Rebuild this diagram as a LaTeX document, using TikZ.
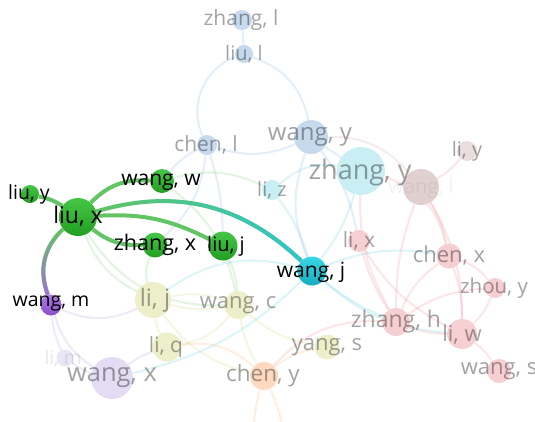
\documentclass[tikz,border=0pt]{standalone}
\usepackage{fontspec}
\setmainfont{Open Sans}
\usetikzlibrary{fadings}

% cluster colours
\definecolor{cBlue}{HTML}{6FA8DC}
\definecolor{cCyan}{HTML}{4FC8D8}
\definecolor{cRed}{HTML}{EC7F86}
\definecolor{cYel}{HTML}{C8D070}
\definecolor{cOra}{HTML}{F7A866}
\definecolor{cPur}{HTML}{A98AD8}
\definecolor{cGrn}{HTML}{6CC46C}
\definecolor{cBrn}{HTML}{C8A0A0}
% pale node fills
\definecolor{pBlue}{HTML}{C7DAED}
\definecolor{pCyan}{HTML}{C9EFF4}
\definecolor{pBrn}{HTML}{E0D0D0}
\definecolor{pBrn2}{HTML}{E9DDDD}
\definecolor{pRed}{HTML}{F6CFD3}
\definecolor{pYel}{HTML}{ECEFCA}
\definecolor{pOra}{HTML}{FDDABF}
\definecolor{pPur}{HTML}{E4DCF2}
\definecolor{pPur2}{HTML}{EAE5F4}
% highlighted colours
\definecolor{hGrnT}{HTML}{46C646}
\definecolor{hGrnB}{HTML}{229F22}
\definecolor{hCyaT}{HTML}{3AD6E6}
\definecolor{hCyaB}{HTML}{14ADC0}
\definecolor{hPurT}{HTML}{AE7AE4}
\definecolor{hPurB}{HTML}{8A50CC}
\definecolor{eGrn}{HTML}{62C462}
\definecolor{eTeal}{HTML}{2EC6CC}
\definecolor{ePur}{HTML}{A070DA}

\pgfdeclarelayer{fadedlinks}
\pgfdeclarelayer{fadednodes}
\pgfdeclarelayer{hotlinks}
\pgfsetlayers{fadedlinks,fadednodes,hotlinks,main}

\tikzset{
  dot/.style={circle, inner sep=0pt, draw=none},
  hotG/.style={dot, top color=hGrnT, bottom color=hGrnB},
  hotC/.style={dot, top color=hCyaT, bottom color=hCyaB},
  hotP/.style={dot, top color=hPurT, bottom color=hPurB},
  blk/.style={inner sep=0pt, text=black},
  gry/.style={inner sep=0pt, text=black, text opacity=0.36},
  fe/.style={line width=2.1pt, opacity=0.19},
  eb/.style={fe, cBlue},
  ec/.style={fe, cCyan},
  er/.style={fe, cRed},
  ey/.style={fe, cYel},
  eo/.style={fe, cOra},
  ep/.style={fe, cPur},
  eg/.style={fe, cGrn},
  ebr/.style={fe, cBrn},
  he/.style={line width=4pt, eGrn},
}

\begin{document}
\begin{tikzpicture}[x=1pt, y=-1pt]
\useasboundingbox (0,0) rectangle (535,421);
\clip (0,0) rectangle (535,421);

% ---- faded nodes and their labels ----
\begin{pgfonlayer}{fadednodes}
\node[dot, minimum size=20, fill=pBlue] (zhangl) at (242,20) {};
\node[dot, minimum size=18, fill=pBlue] (liul) at (244,54) {};
\node[dot, minimum size=20, fill=pBlue] (chenl) at (207,145) {};
\node[dot, minimum size=34, fill=pBlue] (wangy) at (311,137) {};
\node[dot, minimum size=48, fill=pCyan] (zhangy) at (361,171) {};
\node[dot, minimum size=36, fill=pBrn] (wangl) at (421,187) {};
\node[dot, minimum size=20, fill=pBrn2] (liy) at (467,151) {};
\node[dot, minimum size=20, fill=pCyan] (liz) at (272,190) {};
\node[dot, minimum size=22, fill=pRed] (lix) at (359,241) {};
\node[dot, minimum size=25, fill=pRed] (chenx) at (449,256) {};
\node[dot, minimum size=20, fill=pRed] (zhouy) at (495,288) {};
\node[dot, minimum size=28, fill=pRed] (zhangh) at (396,322) {};
\node[dot, minimum size=30, fill=pRed] (liw) at (462,334) {};
\node[dot, minimum size=24, fill=pRed] (wangs) at (499,371) {};
\node[dot, minimum size=36, fill=pYel] (lij) at (153,300) {};
\node[dot, minimum size=28, fill=pYel] (wangc) at (238,305) {};
\node[dot, minimum size=29, fill=pYel] (liq) at (167,347) {};
\node[dot, minimum size=25, fill=pYel] (yangs) at (327,347) {};
\node[dot, minimum size=28, fill=pOra] (cheny) at (264,376) {};
\node[dot, minimum size=17, fill=pPur2] (lim) at (65,358) {};
\node[dot, minimum size=42, fill=pPur] (wangx) at (112,378) {};

\node[gry, font=\fontsize{21}{21}\selectfont] (t-zhangl) at (241,20) {zhang, l};
\node[gry, font=\fontsize{20}{20}\selectfont] (t-liul) at (244,54) {liu, l};
\node[gry, font=\fontsize{21}{21}\selectfont] (t-chenl) at (206,145) {chen, l};
\node[gry, font=\fontsize{24}{24}\selectfont] (t-wangy) at (310,137) {wang, y};
\node[gry, font=\fontsize{20}{20}\selectfont, text opacity=0.05] (t-wangl) at (421,188) {wang, l};
\node[gry, font=\fontsize{27}{27}\selectfont] (t-zhangy) at (360,172) {zhang, y};
\node[gry, font=\fontsize{20}{20}\selectfont] (t-liy) at (467,151) {li, y};
\node[gry, font=\fontsize{20}{20}\selectfont] (t-liz) at (272,190) {li, z};
\node[gry, font=\fontsize{21}{21}\selectfont] (t-lix) at (359,241) {li, x};
\node[gry, font=\fontsize{22}{22}\selectfont] (t-chenx) at (449,256) {chen, x};
\node[gry, font=\fontsize{20.5}{20.5}\selectfont] (t-zhouy) at (494,288) {zhou, y};
\node[gry, font=\fontsize{23}{23}\selectfont] (t-zhangh) at (396,322) {zhang, h};
\node[gry, font=\fontsize{22}{22}\selectfont] (t-liw) at (462,335) {li, w};
\node[gry, font=\fontsize{22}{22}\selectfont] (t-wangs) at (499,371) {wang, s};
\node[gry, font=\fontsize{24}{24}\selectfont] (t-lij) at (155,300) {li, j};
\node[gry, font=\fontsize{22}{22}\selectfont] (t-wangc) at (238,305) {wang, c};
\node[gry, font=\fontsize{21}{21}\selectfont] (t-liq) at (166,347) {li, q};
\node[gry, font=\fontsize{22}{22}\selectfont] (t-yangs) at (327,347) {yang, s};
\node[gry, font=\fontsize{22.5}{22.5}\selectfont] (t-cheny) at (263,376) {chen, y};
\node[gry, font=\fontsize{19}{19}\selectfont, text opacity=0.09] (t-lim) at (63,358) {li, m};
\node[gry, font=\fontsize{25.5}{25.5}\selectfont] (t-wangx) at (112,378) {wang, x};
\end{pgfonlayer}

% ---- highlighted nodes ----
\node[hotG, minimum size=38] (liux) at (78,217) {};
\node[hotG, minimum size=18] (liuy) at (30,194) {};
\node[hotG, minimum size=24] (wangw) at (162,181) {};
\node[hotG, minimum size=25] (zhangx) at (155,245) {};
\node[hotG, minimum size=29] (liuj) at (223,246) {};
\node[hotC, minimum size=29] (wangj) at (312,271) {};
\node[hotP, minimum size=21] (wangm) at (51,305) {};

% links that run out of the frame below chen, y
\coordinate (off1) at (255,450);
\coordinate (off2) at (285,450);

% ---- faded links ----
\begin{pgfonlayer}{fadedlinks}
\draw[eb] (zhangl) -- (liul);
\draw[eb] (liul) to[bend right=48] (chenl);
\draw[eb] (liul) to[bend left=30] (wangy);
\draw[eb] (chenl) to[bend right=20] (wangy);
\draw[eb] (wangy) -- (zhangy);
\draw[eb] (wangy) to[bend right=20] (wangj);
\draw[eb] (wangy) to[bend left=12] (lix);
\draw[eb] (chenl) to[bend left=8] (liuj);
\draw[eb] (chenl) to[bend right=12] (wangw);
\draw[eb] (chenl) to[bend left=20] (zhangx);
\draw[ebr] (wangy) to[bend left=25] (wangl);

\draw[ec] (zhangy) to[bend left=10] (wangj);
\draw[ec] (liz) to[bend left=10] (wangj);
\draw[ec] (wangj) to[bend left=15] (chenx);
\draw[ec] (wangj) to[bend right=18] (liw);
\draw[ec] (wangj) to[bend right=8] (zhangh);
\draw[ec] (wangj) to[bend left=15] (wangx);
\draw[ec] (zhangy) to[bend right=25] (liz);
\draw[ec] (wangj) to[bend right=25] (lij);

\draw[er] (wangl) to[bend right=10] (liy);
\draw[er] (wangl) to[bend left=10] (chenx);
\draw[er] (wangl) to[bend left=15] (liw);
\draw[er] (wangl) to[bend right=10] (zhangh);
\draw[er] (zhangy) to[bend right=15] (zhangh);
\draw[er] (lix) to[bend right=15] (liw);
\draw[er] (lix) to[bend right=8] (zhangh);
\draw[er] (chenx) to[bend left=15] (zhouy);
\draw[er] (chenx) to[bend left=10] (liw);
\draw[er] (chenx) to[bend right=15] (zhangh);
\draw[er] (zhouy) to[bend left=12] (liw);
\draw[er] (zhouy) to[bend right=15] (zhangh);
\draw[er] (zhangh) to[bend right=10] (liw);
\draw[er] (liw) to[bend left=10] (wangs);
\draw[er] (zhangh) to[bend right=25] (cheny);
\draw[er] (zhangy) to[bend left=30] (chenx);

\draw[ey] (lij) to[bend left=15] (wangc);
\draw[ey] (lij) to[bend right=12] (wangc);
\draw[ey] (lij) to[bend right=10] (liq);
\draw[ey] (liq) to[bend right=20] (wangc);
\draw[ey] (wangc) to[bend right=10] (cheny);
\draw[ey] (wangc) to[bend right=15] (yangs);
\draw[ey] (lij) to[bend right=20] (cheny);

\draw[eo] (cheny) to[bend right=10] (off1);
\draw[eo] (cheny) to[bend left=10] (off2);
\draw[eo] (cheny) to[bend left=15] (yangs);
\draw[eo] (cheny) to[bend right=25] (liq);

\draw[ep] (wangm) to[bend right=10] (lim);
\draw[ep] (lim) to[bend right=10] (wangx);
\draw[ep] (wangm) to[bend right=20] (wangx);
\draw[ep] (wangx) to[bend left=10] (liq);
\draw[ep] (wangm) to[bend right=25] (lij);

\draw[eg] (liux) to[bend right=30] (wangc);
\draw[eg] (wangw) to[bend left=20] (wangc);
\draw[eg] (zhangx) to[bend right=20] (lij);
\draw[eg] (wangw) to[bend left=20] (liz);
\draw[eg] (liuj) to[bend left=10] (wangc);
\draw[eg] (liux) to[bend right=20] (lij);
\end{pgfonlayer}

% ---- highlighted links ----
\begin{pgfonlayer}{hotlinks}
\draw[he] (liux) to[bend right=10] (liuy);
\draw[he] (liux) to[bend left=25] (wangw);
\draw[he] (liux) to[bend right=20] (zhangx);
\draw[he] (liux) to[bend left=15] (liuj);
\draw[he] (liux) to[bend left=30] (wangj);
\draw[he, eTeal, path fading=west] (liux) to[bend left=30] (wangj);
\draw[he] (liux) to[bend right=34] (wangm);
\draw[he, ePur, path fading=north] (liux) to[bend right=34] (wangm);
\end{pgfonlayer}

% ---- highlighted labels ----
\node[blk, font=\fontsize{23}{23}\selectfont] (t-liux) at (78,216) {liu, x};
\node[blk, font=\fontsize{19.5}{19.5}\selectfont] (t-liuy) at (29,194) {liu, y};
\node[blk, font=\fontsize{21}{21}\selectfont] (t-wangw) at (161,182) {wang, w};
\node[blk, font=\fontsize{21.5}{21.5}\selectfont] (t-zhangx) at (155,245) {zhang, x};
\node[blk, font=\fontsize{20}{20}\selectfont] (t-liuj) at (226,246) {liu, j};
\node[blk, font=\fontsize{21}{21}\selectfont] (t-wangj) at (311,272) {wang, j};
\node[blk, font=\fontsize{19.5}{19.5}\selectfont] (t-wangm) at (51,304) {wang, m};
\end{tikzpicture}
\end{document}
